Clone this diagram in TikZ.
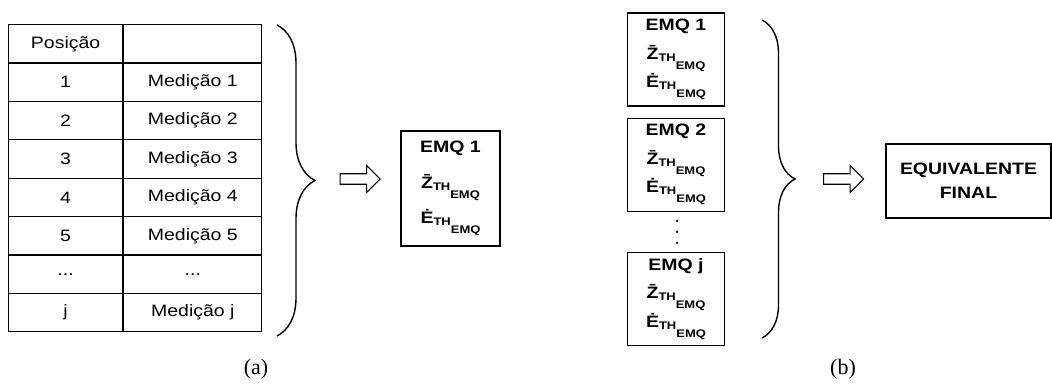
\documentclass[tikz,border=0pt]{standalone}
\usepackage{fontspec}
\setmainfont{Liberation Sans}[FakeStretch=1.18]
\newfontfamily\fonteserif{Liberation Serif}
\usepackage{tikz}
\usetikzlibrary{positioning, calc, shapes.arrows, decorations.pathreplacing}

% indice TH_EMQ
\newcommand{\subemq}{\raisebox{-2pt}{\fontsize{11}{11}\selectfont TH\raisebox{-8pt}{EMQ}}}
\newcommand{\trespontos}{...}

\tikzset{
  celpos/.style={rectangle, draw, line width=1.2pt, minimum width=114pt,
    minimum height=38.4pt, inner sep=0pt, anchor=north west,
    font=\fontsize{16.5}{20}\selectfont},
  celmed/.style={celpos, minimum width=138pt},
  caixa/.style={rectangle, draw, line width=1.2pt, align=center, inner sep=2pt,
    font=\fontsize{16.5}{35.5}\selectfont\bfseries},
  caixab/.style={caixa, minimum width=97pt, minimum height=93pt,
    font=\fontsize{16.5}{28.5}\selectfont\bfseries},
  seta/.style={single arrow, draw, line width=1.1pt, minimum height=40pt,
    minimum width=27pt, inner sep=0pt, inner ysep=4pt},
  chave/.style={decorate, decoration={brace, amplitude=#1}, line width=1.4pt},
  ponto/.style={circle, fill, inner sep=0pt, minimum size=2.6pt},
  rotulo/.style={font=\fonteserif\fontsize{22}{22}\selectfont}
}

\begin{document}
\begin{tikzpicture}[x=1pt, y=-1pt]
  \useasboundingbox (0,0) rectangle (1052,387);

  % (a) tabela de medicoes
  \foreach \pos/\med [count=\r from 0] in {Posição/{}, 1/Medição 1, 2/Medição 2,
      3/Medição 3, 4/Medição 4, 5/Medição 5, \trespontos/\trespontos, j/Medição j} {
    \node[celpos] (pos\r) at (8, 24+\r*38.4) {\pos};
    \node[celmed, right=0pt of pos\r] (med\r) {\med};
  }
  \coordinate (chaveAtopo) at (277,25);
  \coordinate (chaveAbase) at (277,336);
  \draw[chave=38pt] (chaveAtopo) -- (chaveAbase);
  \node[seta] (setaA) at (357.5,179) {};
  \node[caixa, minimum width=99pt, minimum height=115pt] (emqA) at (450.5,188.5)
    {EMQ 1\\\=Z\subemq\\\.E\subemq};
  \node[rotulo] (rotA) at (256,369) {(a)};

  % (b) equivalentes por janela
  \node[caixab] (emq1) at (676,59.5) {EMQ 1\\\=Z\subemq\\\.E\subemq};
  \node[caixab, below=11pt of emq1] (emq2) {EMQ 2\\\=Z\subemq\\\.E\subemq};
  \node[caixab, below=40pt of emq2] (emqj) {EMQ j\\\=Z\subemq\\\.E\subemq};
  \foreach \k in {-1,0,1}
    \node[ponto] (ponto\k) at ($(emq2.south)!0.5!(emqj.north)+(1,11*\k)$) {};
  \coordinate (chaveBtopo) at (762,20);
  \coordinate (chaveBbase) at (762,338);
  \draw[chave=33pt] (chaveBtopo) -- (chaveBbase);
  \node[seta] (setaB) at (841,179) {};
  \node[caixa, minimum width=165pt, minimum height=74pt,
    font=\fontsize{16.5}{24}\selectfont\bfseries] (final) at (968.5,181)
    {EQUIVALENTE\\FINAL};
  \node[rotulo] (rotB) at (843,369) {(b)};
\end{tikzpicture}
\end{document}
